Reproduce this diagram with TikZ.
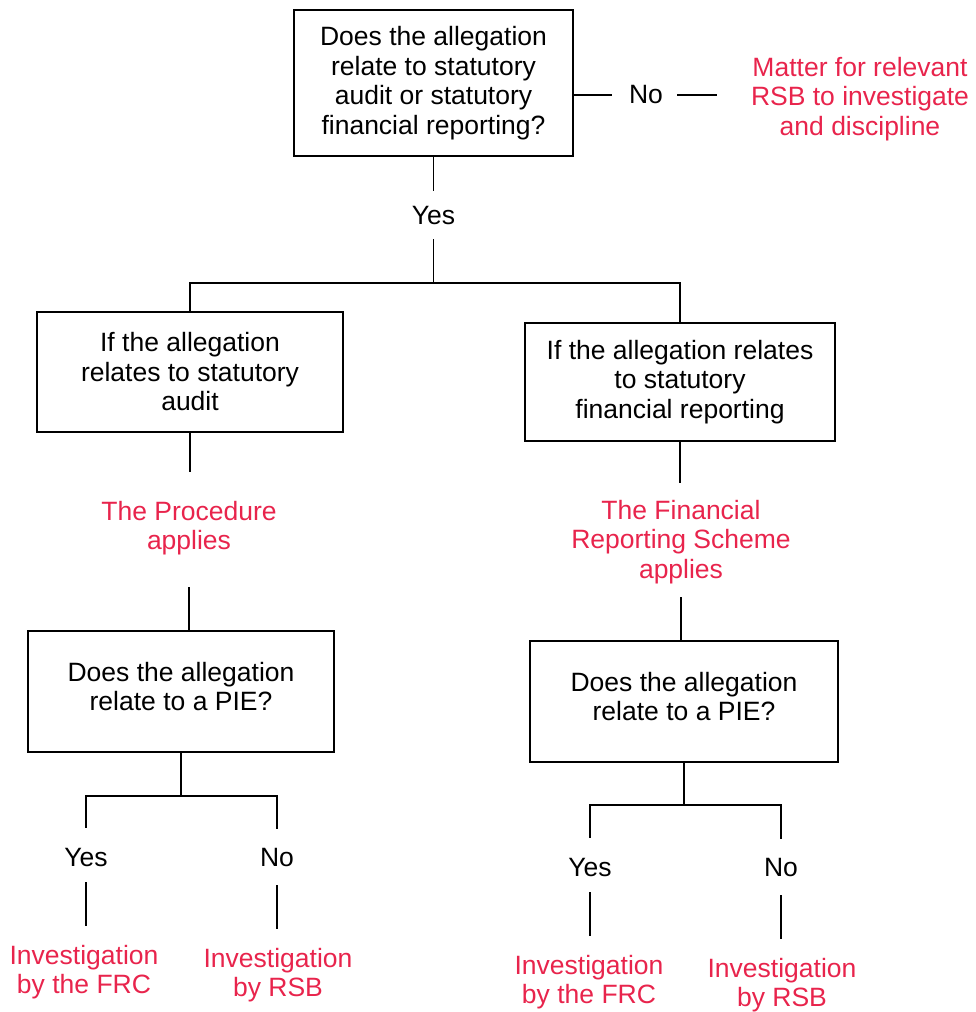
\documentclass[tikz,border=0pt]{standalone}
\usepackage{fontspec}
\setmainfont{Liberation Sans}
\usepackage{xcolor}
\definecolor{frcred}{RGB}{232,36,76}
\tikzset{
  qbox/.style={draw, line width=1.6pt, align=center, inner sep=0pt},
  verdict/.style={text=frcred, align=center, inner sep=0pt},
  answer/.style={inner sep=0pt},
  link/.style={line width=1.5pt},
}

\begin{document}
\begin{tikzpicture}[x=1pt, y=-1pt, font=\fontsize{26.5}{29.5}\selectfont]
  \useasboundingbox (0,0) rectangle (976,1012);
  % first question
  \node[qbox, minimum width=279pt, minimum height=146pt] (q1) at (433.5,83)
    {Does the allegation\\relate to statutory\\audit or statutory\\financial reporting?};
  \node[answer] (no1) at (646,95) {No};
  \node[verdict] (rsb1) at (860,99) {Matter for relevant\\RSB to investigate\\and discipline};
  \node[answer] (yes1) at (433.5,216) {Yes};
  \coordinate (fork1) at (433.5,283);
  \draw[link, shorten >=17pt] (q1.east |- no1) -- (no1.west);
  \draw[link, shorten <=14pt, shorten >=34pt] (no1.east) -- (no1.east -| rsb1.west);
  \draw[link, shorten >=16pt] (q1.south) -- (yes1.north);
  \draw[link, shorten <=14pt] (yes1.south) -- (fork1);
  % audit or financial reporting
  \node[qbox, minimum width=306pt, minimum height=120pt] (s1) at (190,372)
    {If the allegation\\relates to statutory\\audit};
  \node[qbox, minimum width=310pt, minimum height=118pt] (s2) at (680,382)
    {If the allegation relates\\to statutory\\financial reporting};
  \draw[link] (s1.north) |- (fork1) -| (s2.north);
  \node[verdict] (p1) at (189,528) {The Procedure\\applies};
  \node[verdict] (p2) at (681,542) {The Financial\\Reporting Scheme\\applies};
  \draw[link, shorten >=29pt] (s1.south) -- (s1.south |- p1.north);
  \draw[link, shorten >=17pt] (s2.south) -- (s2.south |- p2.north);
  % PIE questions
  \node[qbox, text depth=10pt, minimum width=306pt, minimum height=121pt] (q2) at (181,691.5)
    {Does the allegation\\relate to a PIE?};
  \node[qbox, text depth=10pt, minimum width=308pt, minimum height=121pt] (q3) at (684,701.5)
    {Does the allegation\\relate to a PIE?};
  \draw[link, shorten <=32pt] (p1.south) -- (p1.south |- q2.north);
  \draw[link, shorten <=13pt] (p2.south) -- (p2.south |- q3.north);
  % yes / no and who investigates
  \node[answer] (y2) at (86,858) {Yes};
  \node[answer] (n2) at (277,858) {No};
  \node[answer] (y3) at (590,868) {Yes};
  \node[answer] (n3) at (781,868) {No};
  \coordinate (fork2) at (181,796);
  \coordinate (fork3) at (684,805);
  \node[verdict] (v1) at (84,972) {Investigation\\by the FRC};
  \node[verdict] (v2) at (278,975) {Investigation\\by RSB};
  \node[verdict] (v3) at (589,982) {Investigation\\by the FRC};
  \node[verdict] (v4) at (782,985) {Investigation\\by RSB};
  \foreach \q/\f/\y/\n/\a/\b in {q2/fork2/y2/n2/v1/v2, q3/fork3/y3/n3/v3/v4} {
    \draw[link] (\q.south) -- (\f);
    \draw[link, shorten <=21pt, shorten >=20pt] (\y.north) |- (\f) -| (\n.north);
    \draw[link, shorten <=15pt, shorten >=19pt] (\y.south) -- (\y.south |- \a.north);
    \draw[link, shorten <=18pt, shorten >=19pt] (\n.south) -- (\n.south |- \b.north);
  }
\end{tikzpicture}
\end{document}
